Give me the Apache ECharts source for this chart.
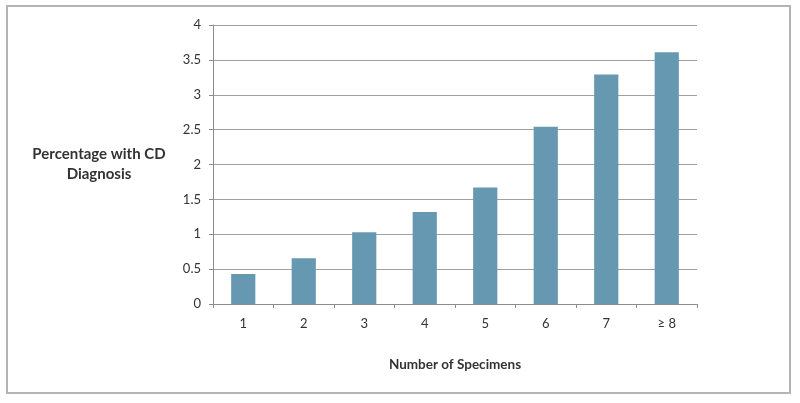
<!DOCTYPE html>
<html>
<head>
<meta charset="utf-8">
<script src="https://cdn.jsdelivr.net/npm/echarts@6/dist/echarts.min.js"></script>
<style>
  html, body { margin: 0; padding: 0; background: #fff; }
  #frame {
    position: absolute; left: 6px; top: 5px; width: 781px; height: 385px;
    border: 2px solid #b4b4b4; box-sizing: content-box;
  }
  #chart { position: absolute; left: 0; top: 0; width: 800px; height: 403px; }
</style>
</head>
<body>
<div id="frame"></div>
<div id="chart"></div>
<script>
const categories = ['1', '2', '3', '4', '5', '6', '7', '≥ 8']
const percentages = [0.43, 0.655, 1.03, 1.32, 1.67, 2.54, 3.29, 3.61]
const yTicks = [0, 0.5, 1, 1.5, 2, 2.5, 3, 3.5, 4]

const font = 'Lato, "Noto Sans", sans-serif'
const chart = echarts.init(document.getElementById('chart'))
chart.setOption({
  animation: false,
  textStyle: { fontFamily: font },
  grid: { left: 213, right: 103, top: 25, bottom: 99 },
  xAxis: {
    type: 'category',
    data: categories,
    name: 'Number of Specimens',
    nameLocation: 'middle',
    nameGap: 61,
    nameTextStyle: {
      fontFamily: font, fontSize: 13.5, fontWeight: 'bold', color: '#333',
      verticalAlign: 'middle',
    },
    axisLine: { lineStyle: { color: '#8c8c8c' } },
    axisTick: { show: true, length: 4, lineStyle: { color: '#8c8c8c' } },
    axisLabel: { fontFamily: font, fontSize: 13, color: '#333', margin: 13 },
  },
  yAxis: {
    type: 'value',
    min: yTicks[0],
    max: yTicks[yTicks.length - 1],
    interval: 0.5,
    name: 'Percentage with CD\nDiagnosis',
    nameLocation: 'middle',
    nameRotate: 0,
    nameGap: 114,
    nameTextStyle: {
      fontFamily: font, fontSize: 15, fontWeight: 'bold', color: '#333',
      align: 'center', verticalAlign: 'middle', lineHeight: 20,
    },
    axisLine: { show: true, lineStyle: { color: '#8c8c8c' } },
    axisTick: { show: true, length: 4, lineStyle: { color: '#8c8c8c' } },
    axisLabel: { fontFamily: font, fontSize: 13, color: '#333', margin: 12 },
    splitLine: { lineStyle: { color: '#a0a0a0', width: 1 } },
  },
  series: [
    {
      type: 'bar',
      data: percentages,
      barWidth: '40%',
      itemStyle: { color: '#6699b1' },
    },
  ],
})
</script>
</body>
</html>
